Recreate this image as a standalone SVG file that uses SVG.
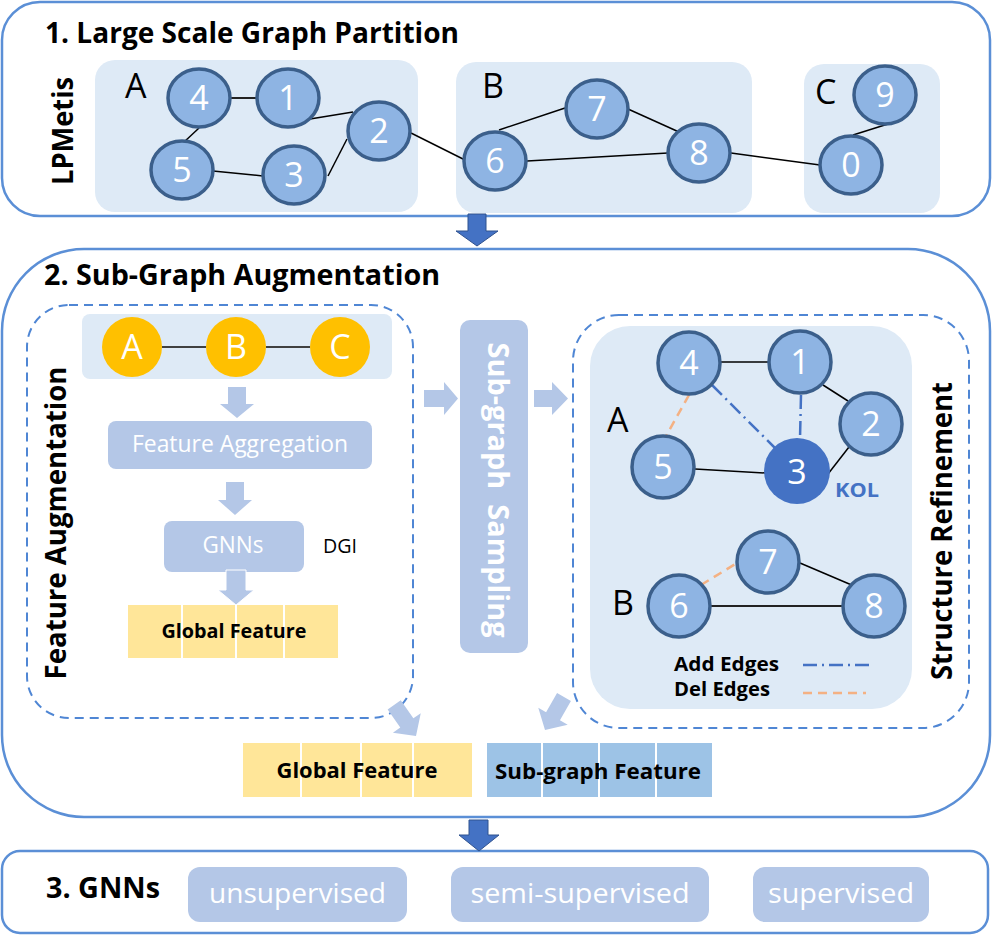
<svg xmlns="http://www.w3.org/2000/svg" width="992" height="936" viewBox="0 0 992 936">
<style>
.sec{fill:#fff;stroke:#5b8fd6;stroke-width:2.5}
.panel{fill:#deeaf6}
.dash{fill:none;stroke:#4f86d4;stroke-width:2;stroke-dasharray:9 6}
.nd{fill:#8eb4e3;stroke:#3b5f8b;stroke-width:3.5}
.kol{fill:#4472c4}
.nt{font-family:'Open Sans','Noto Sans',sans-serif;font-size:34px;fill:#fff;text-anchor:middle}
.yl{fill:#ffc000}
.yt{font-family:'Open Sans','Noto Sans',sans-serif;font-size:34px;fill:#fff;text-anchor:middle}
.lab{font-family:'Open Sans','Noto Sans',sans-serif;font-size:34px;fill:#000}
.ttl{font-family:'Open Sans','Noto Sans',sans-serif;font-size:28px;font-weight:bold;fill:#000}
.vt{font-family:'Open Sans','Noto Sans',sans-serif;font-size:28px;font-weight:bold;fill:#000;text-anchor:middle}
.box{fill:#b4c7e7}
.bt{font-family:'Open Sans','Noto Sans',sans-serif;font-size:24px;fill:#fff;text-anchor:middle}
.pt{font-family:'Open Sans','Noto Sans',sans-serif;font-size:28px;fill:#fff;text-anchor:middle}
.ft{font-family:'Open Sans','Noto Sans',sans-serif;font-size:21px;font-weight:bold;fill:#000;text-anchor:middle}
.e{stroke:#000;stroke-width:1.5;fill:none}
.add{stroke:#4472c4;stroke-width:2.5;stroke-dasharray:14 5 2 5;fill:none}
.del{stroke:#f4b183;stroke-width:2.5;stroke-dasharray:9 6;fill:none}
.la{fill:#b4c7e7}
.da{fill:#4472c4;stroke:#2f528f;stroke-width:1}
.cell{stroke:#fff;stroke-width:2}
</style>

<!-- Section 1 -->
<g id="section1">
<rect class="sec" x="2" y="2" width="988" height="214" rx="38"/>
<text class="ttl" x="45" y="43" textLength="414" lengthAdjust="spacingAndGlyphs">1. Large Scale Graph Partition</text>
<text class="vt" transform="translate(73,131) rotate(-90)" textLength="108" lengthAdjust="spacingAndGlyphs">LPMetis</text>
<rect class="panel" x="95" y="60" width="323" height="152" rx="20"/>
<rect class="panel" x="456" y="62" width="296" height="151" rx="20"/>
<rect class="panel" x="804" y="64" width="136" height="149" rx="20"/>
<text class="lab" x="125" y="98">A</text>
<text class="lab" x="482" y="98">B</text>
<text class="lab" x="815" y="104">C</text>
</g>

<!-- Section 2 -->
<g id="section2">
<rect x="2" y="249" width="988" height="568" rx="82" style="fill:none;stroke:#5b8fd6;stroke-width:2.5"/>
<text class="ttl" x="44" y="285" textLength="396" lengthAdjust="spacingAndGlyphs">2. Sub-Graph Augmentation</text>
</g>

<g id="feature-augmentation">
<rect class="dash" x="27" y="305" width="386" height="413" rx="42"/>
<text class="vt" transform="translate(66,523) rotate(-90)" textLength="313" lengthAdjust="spacingAndGlyphs">Feature Augmentation</text>
<rect class="panel" x="82" y="314" width="310" height="65" rx="8"/>
</g>

<g id="feature-aggregation">
<rect class="box" x="108" y="421" width="264" height="48" rx="8"/>
<text class="bt" x="240" y="452" textLength="216" lengthAdjust="spacingAndGlyphs">Feature Aggregation</text>
</g>
<g id="gnns-box">
<rect class="box" x="164" y="521" width="140" height="51" rx="8"/>
<text class="bt" x="233" y="553" textLength="61" lengthAdjust="spacingAndGlyphs">GNNs</text>
<text x="323" y="553" style="font-family:'Open Sans','Noto Sans',sans-serif;font-size:20px;fill:#000" textLength="34" lengthAdjust="spacingAndGlyphs">DGI</text>
</g>
<g id="global-feature-inner">
<rect x="128" y="605" width="210" height="53" style="fill:#ffe699"/>
<line class="cell" x1="182" y1="605" x2="182" y2="658"/>
<line class="cell" x1="236" y1="605" x2="236" y2="658"/>
<line class="cell" x1="284" y1="605" x2="284" y2="658"/>
<text class="ft" x="234" y="638" style="font-size:20px" textLength="145" lengthAdjust="spacingAndGlyphs">Global Feature</text>
</g>

<g id="subgraph-sampling">
<rect class="box" x="460" y="320" width="68" height="333" rx="10"/>
<text class="vt" transform="translate(488,490) rotate(90)" style="fill:#fff;white-space:pre" textLength="295" lengthAdjust="spacingAndGlyphs">Sub-graph  Sampling</text>
</g>

<g id="structure-refinement">
<rect class="dash" x="573" y="315" width="396" height="413" rx="46"/>
<rect class="panel" x="590" y="326" width="322" height="383" rx="40"/>
<text class="vt" transform="translate(952,531) rotate(-90)" textLength="298" lengthAdjust="spacingAndGlyphs">Structure Refinement</text>
<text class="lab" x="607" y="432">A</text>
<text class="lab" x="612" y="615">B</text>
<text x="835" y="497" style="font-family:'Open Sans','Noto Sans',sans-serif;font-size:20px;font-weight:bold;fill:#4472c4" textLength="44" lengthAdjust="spacingAndGlyphs">KOL</text>
<text x="674" y="671" style="font-family:'Open Sans','Noto Sans',sans-serif;font-size:20px;font-weight:bold;fill:#000" textLength="105" lengthAdjust="spacingAndGlyphs">Add Edges</text>
<text x="674" y="696" style="font-family:'Open Sans','Noto Sans',sans-serif;font-size:20px;font-weight:bold;fill:#000" textLength="96" lengthAdjust="spacingAndGlyphs">Del Edges</text>
<line class="add" x1="803" y1="665" x2="871" y2="665"/>
<line class="del" x1="803" y1="693" x2="866" y2="693"/>
</g>

<g id="global-feature">
<rect x="243" y="743" width="229" height="54" style="fill:#ffe699"/>
<line class="cell" x1="301" y1="743" x2="301" y2="797"/>
<line class="cell" x1="361" y1="743" x2="361" y2="797"/>
<line class="cell" x1="413" y1="743" x2="413" y2="797"/>
<text class="ft" x="357" y="778" textLength="161" lengthAdjust="spacingAndGlyphs">Global Feature</text>
</g>
<g id="subgraph-feature">
<rect x="487" y="743" width="225" height="54" style="fill:#9dc3e6"/>
<line class="cell" x1="542" y1="743" x2="542" y2="797"/>
<line class="cell" x1="599" y1="743" x2="599" y2="797"/>
<line class="cell" x1="656" y1="743" x2="656" y2="797"/>
<text class="ft" x="598" y="779" textLength="206" lengthAdjust="spacingAndGlyphs">Sub-graph Feature</text>
</g>

<!-- Section 3 -->
<g id="section3">
<rect class="sec" x="2" y="851" width="986" height="82" rx="18"/>
<text class="ttl" x="46" y="898" textLength="114" lengthAdjust="spacingAndGlyphs">3. GNNs</text>
</g>
<g id="unsupervised"><rect class="box" x="188" y="867" width="219" height="55" rx="12"/><text class="pt" x="297.5" y="903" textLength="177" lengthAdjust="spacingAndGlyphs">unsupervised</text></g>
<g id="semi-supervised"><rect class="box" x="451" y="867" width="258" height="55" rx="12"/><text class="pt" x="580" y="903" textLength="219" lengthAdjust="spacingAndGlyphs">semi-supervised</text></g>
<g id="supervised"><rect class="box" x="753" y="867" width="176" height="55" rx="12"/><text class="pt" x="841" y="903" textLength="146" lengthAdjust="spacingAndGlyphs">supervised</text></g>

<!-- Connectors -->
<g id="connectors">
<line class="e" x1="231" y1="98" x2="257" y2="98" style="stroke-width:2;stroke:#222"/>
<line class="e" x1="310" y1="119" x2="353" y2="112"/>
<line class="e" x1="199" y1="128" x2="183" y2="143"/>
<line class="e" x1="213" y1="171" x2="263" y2="176"/>
<line class="e" x1="328" y1="176" x2="347" y2="139"/>
<line class="e" x1="411" y1="133" x2="465" y2="160"/>
<line class="e" x1="499" y1="130" x2="565" y2="108"/>
<line class="e" x1="628" y1="109" x2="679" y2="132"/>
<line class="e" x1="527" y1="161" x2="668" y2="153"/>
<line class="e" x1="731" y1="153" x2="820" y2="165"/>
<line class="e" x1="888" y1="124" x2="853" y2="135"/>

<line x1="162" y1="347" x2="206" y2="347" style="stroke:#404040;stroke-width:2"/>
<line x1="266" y1="347" x2="310" y2="347" style="stroke:#404040;stroke-width:2"/>

<line class="e" x1="721" y1="362" x2="768" y2="362"/>
<line class="e" x1="823" y1="385" x2="848" y2="401"/>
<line class="e" x1="849" y1="447" x2="828" y2="474"/>
<line class="e" x1="695" y1="469" x2="766" y2="473"/>
<line class="add" x1="712" y1="385" x2="776" y2="449"/>
<line class="add" x1="801" y1="395" x2="800" y2="439"/>
<line class="del" x1="689" y1="395" x2="666" y2="436"/>
<line class="del" x1="701" y1="585" x2="737" y2="563"/>
<line class="e" x1="800" y1="563" x2="854" y2="586"/>
<line class="e" x1="711" y1="606" x2="843" y2="606" style="stroke:#222;stroke-width:2"/>

<polygon class="da" points="468,214 486,214 486,231 498,231 477,246 456,231 468,231"/>
<polygon class="da" points="469,820 488,820 488,835 499,835 479,851 459,835 469,835"/>

<polygon class="la" points="228,387 246,387 246,404 254,404 237,418 220,404 228,404"/>
<polygon class="la" points="226,482 244,482 244,500 252,500 235,515 218,500 226,500"/>
<polygon class="la" points="226,570 246,570 246,590 254,590 236,605 218,590 226,590" style="stroke:#fff;stroke-width:1"/>
<polygon class="la" points="424,390 444,390 444,382 458,398.5 444,415 444,407 424,407"/>
<polygon class="la" points="534,390 552,390 552,382 568,398.5 552,415 552,407 534,407"/>
<polygon class="la" transform="translate(416,736) rotate(55)" points="-38,-8 -16,-8 -16,-17 0,0 -16,17 -16,8 -38,8"/>
<polygon class="la" transform="translate(545,730) rotate(120)" points="-38,-8 -16,-8 -16,-17 0,0 -16,17 -16,8 -38,8"/>
</g>

<!-- Section 1 nodes -->
<g id="n1-4"><ellipse class="nd" cx="199" cy="98" rx="31" ry="29"/><text class="nt" x="199" y="110">4</text></g>
<g id="n1-1"><ellipse class="nd" cx="288" cy="98" rx="31" ry="29"/><text class="nt" x="288" y="110">1</text></g>
<g id="n1-2"><ellipse class="nd" cx="379" cy="131" rx="31" ry="29"/><text class="nt" x="379" y="143">2</text></g>
<g id="n1-5"><ellipse class="nd" cx="182" cy="170" rx="31" ry="29"/><text class="nt" x="182" y="182">5</text></g>
<g id="n1-3"><ellipse class="nd" cx="294" cy="175" rx="31" ry="29"/><text class="nt" x="294" y="187">3</text></g>
<g id="n1-6"><ellipse class="nd" cx="495" cy="161" rx="31" ry="29"/><text class="nt" x="495" y="173">6</text></g>
<g id="n1-7"><ellipse class="nd" cx="597" cy="109" rx="31" ry="29"/><text class="nt" x="597" y="121">7</text></g>
<g id="n1-8"><ellipse class="nd" cx="699" cy="153" rx="31" ry="29"/><text class="nt" x="699" y="165">8</text></g>
<g id="n1-9"><ellipse class="nd" cx="885" cy="95" rx="31" ry="29"/><text class="nt" x="885" y="107">9</text></g>
<g id="n1-0"><ellipse class="nd" cx="851" cy="165" rx="31" ry="29"/><text class="nt" x="851" y="177">0</text></g>

<!-- Section 2 nodes -->
<g id="fa-A"><circle class="yl" cx="132" cy="347" r="30"/><text class="yt" x="132" y="359">A</text></g>
<g id="fa-B"><circle class="yl" cx="236" cy="347" r="30"/><text class="yt" x="236" y="359">B</text></g>
<g id="fa-C"><circle class="yl" cx="340" cy="347" r="30"/><text class="yt" x="340" y="359">C</text></g>

<g id="sr-4"><circle class="nd" cx="689" cy="363" r="31"/><text class="nt" x="689" y="375">4</text></g>
<g id="sr-1"><circle class="nd" cx="800" cy="362" r="31"/><text class="nt" x="800" y="374">1</text></g>
<g id="sr-2"><circle class="nd" cx="871" cy="424" r="31"/><text class="nt" x="871" y="436">2</text></g>
<g id="sr-5"><circle class="nd" cx="663" cy="467" r="31"/><text class="nt" x="663" y="479">5</text></g>
<g id="sr-3"><circle class="kol" cx="797" cy="471" r="33"/><text class="nt" x="797" y="484">3</text></g>
<g id="sr-7"><circle class="nd" cx="768" cy="562" r="31"/><text class="nt" x="768" y="574">7</text></g>
<g id="sr-6"><circle class="nd" cx="679" cy="606" r="31"/><text class="nt" x="679" y="618">6</text></g>
<g id="sr-8"><circle class="nd" cx="874" cy="606" r="31"/><text class="nt" x="874" y="618">8</text></g>
</svg>
